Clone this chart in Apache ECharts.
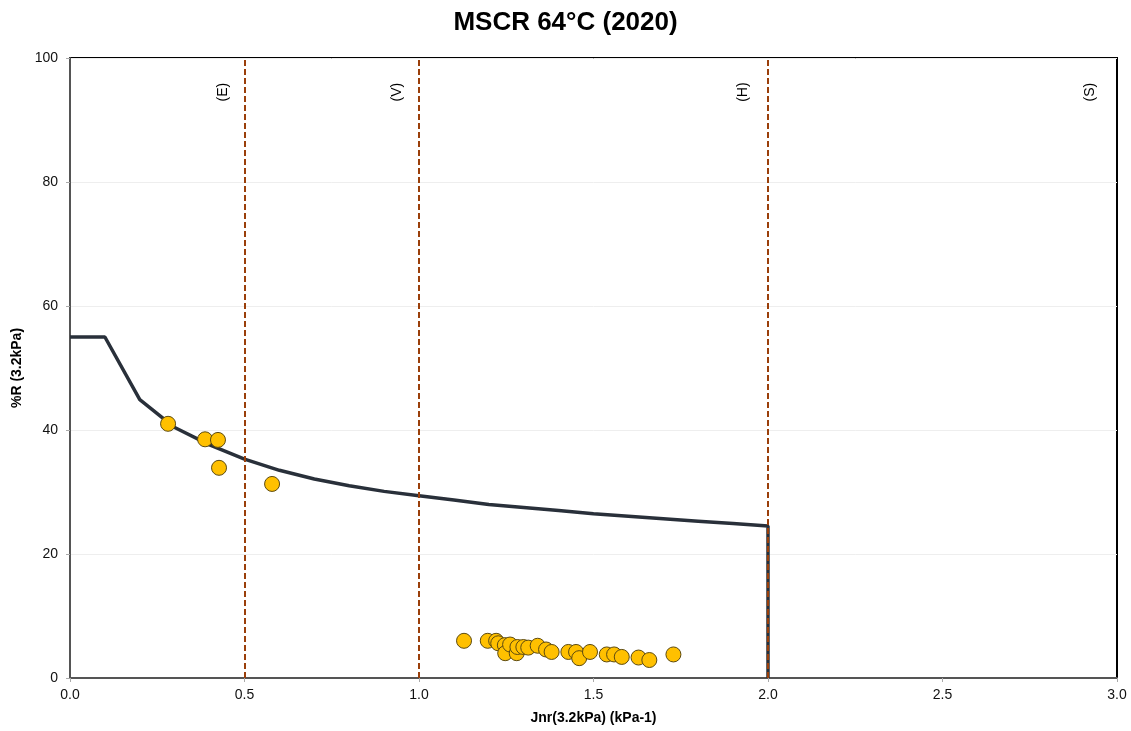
<!DOCTYPE html>
<html><head><meta charset="utf-8">
<script src="https://cdn.jsdelivr.net/npm/echarts@6/dist/echarts.min.js"></script>
<style>html,body{margin:0;padding:0;background:#fff}#c{width:1131px;height:731px}</style>
</head><body><div id="c"></div>
<script>
const title = 'MSCR 64°C (2020)';
const xName = 'Jnr(3.2kPa) (kPa-1)';
const yName = '%R (3.2kPa)';
// limit curve (Jnr, %R)
const curveX = [0, 0.1, 0.2, 0.3, 0.4, 0.5, 0.6, 0.7, 0.8, 0.9, 1.0, 1.1, 1.2, 1.3, 1.4, 1.5, 1.6, 1.7, 1.8, 1.9, 2.0, 2.0];
const curveY = [55, 55, 44.9, 40.4, 37.6, 35.3, 33.5, 32.1, 31.0, 30.1, 29.4, 28.7, 28.0, 27.5, 27.0, 26.5, 26.1, 25.7, 25.3, 24.9, 24.5, 0];
// measured samples
const sampleX = [0.281, 0.387, 0.424, 0.427, 0.579, 1.129, 1.197, 1.221, 1.227, 1.246, 1.247, 1.261, 1.280, 1.282, 1.299, 1.313, 1.340, 1.364, 1.380, 1.428, 1.450, 1.459, 1.490, 1.538, 1.559, 1.581, 1.629, 1.660, 1.729];
const sampleY = [41.0, 38.5, 38.4, 33.9, 31.3, 6.0, 6.0, 6.0, 5.6, 5.3, 4.0, 5.4, 4.0, 5.0, 5.0, 4.9, 5.2, 4.6, 4.2, 4.2, 4.2, 3.2, 4.2, 3.8, 3.8, 3.4, 3.3, 2.9, 3.8];
// grade boundaries
const boundaryX = [0.5, 1.0, 2.0];
const gradeLabels = ['(E)', '(V)', '(H)', '(S)'];
const gradeLabelX = [0.44, 0.937, 1.928, 2.923];
const gradeLabelY = [94.5, 94.5, 94.5, 94.5];

const font = 'Liberation Sans, Arial, sans-serif';
const chart = echarts.init(document.getElementById('c'));
chart.setOption({
  animation: false,
  backgroundColor: '#fff',
  title: {text: title, left: 'center', top: 5,
    textStyle: {fontFamily: font, fontSize: 26, fontWeight: 'bold', color: '#000'}},
  grid: {left: 70, right: 14, top: 58, bottom: 53, show: true, borderColor: '#000', borderWidth: 2},
  xAxis: {type: 'value', min: 0, max: 3, interval: 0.5,
    name: xName, nameLocation: 'middle', nameGap: 33,
    nameTextStyle: {fontFamily: font, fontSize: 14, fontWeight: 'bold', color: '#000'},
    axisLine: {show: true, onZero: false, lineStyle: {color: '#555', width: 2}},
    axisTick: {show: true, length: 4, lineStyle: {color: '#aaa'}},
    axisLabel: {fontFamily: font, fontSize: 14, color: '#111', margin: 10, formatter: v => v.toFixed(1)},
    splitLine: {show: false}},
  yAxis: {type: 'value', min: 0, max: 100, interval: 20,
    name: yName, nameLocation: 'middle', nameGap: 44,
    nameTextStyle: {fontFamily: font, fontSize: 14, fontWeight: 'bold', color: '#000'},
    axisLine: {show: true, onZero: false, lineStyle: {color: '#555', width: 2}},
    axisTick: {show: true, length: 4, lineStyle: {color: '#aaa'}},
    axisLabel: {fontFamily: font, fontSize: 14, color: '#111', margin: 12},
    splitLine: {show: true, lineStyle: {color: '#eeeeee', width: 1}}},
  series: [
    {type: 'line', data: curveX.map((x, i) => [x, curveY[i]]), showSymbol: false, symbol: 'none',
      lineStyle: {color: '#29303a', width: 3.5}, z: 3},
    {type: 'line', data: [], markLine: {silent: true, symbol: 'none', label: {show: false},
      lineStyle: {color: '#9a3f0a', type: [6, 3], width: 2},
      data: boundaryX.map(x => ({xAxis: x}))}, z: 4},
    {type: 'scatter', data: sampleX.map((x, i) => [x, sampleY[i]]), symbolSize: 15,
      itemStyle: {color: '#FFC000', borderColor: '#5c4a10', borderWidth: 1, opacity: 1}, z: 5},
    {type: 'scatter', data: gradeLabelX.map((x, i) => [x, gradeLabelY[i], gradeLabels[i]]), symbolSize: 1,
      itemStyle: {color: 'rgba(0,0,0,0)', opacity: 1},
      label: {show: true, position: 'inside', rotate: 90, formatter: p => p.data[2],
        fontFamily: font, fontSize: 14, color: '#000', opacity: 1}, z: 6}
  ]
});
</script></body></html>
